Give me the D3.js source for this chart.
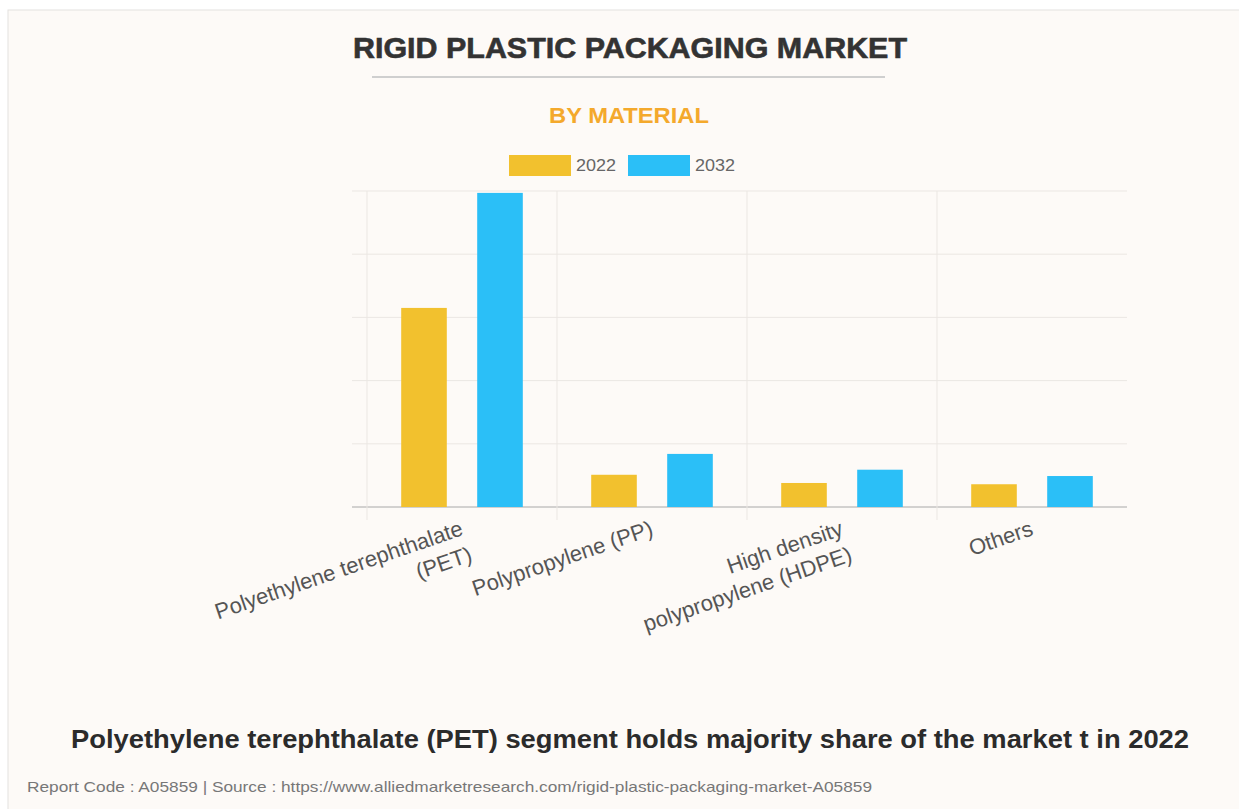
<!DOCTYPE html>
<html>
<head>
<meta charset="utf-8">
<script src="https://cdn.jsdelivr.net/npm/d3@7"></script>
<style>
  body { margin: 0; background: #fff; }
  svg text { font-family: "Liberation Sans", Arial, sans-serif; }
</style>
</head>
<body>
<div id="chart"></div>
<script>
var categories = [
  ['Polyethylene terephthalate', '(PET)'],
  ['Polypropylene (PP)'],
  ['High density', 'polypropylene (HDPE)'],
  ['Others']
]
var seriesNames = ['2022', '2032']
var values2022 = [3.15, 0.51, 0.38, 0.36]
var values2032 = [4.97, 0.84, 0.59, 0.49]
var colors = ['#f2c12e', '#2bbff7']

var W = 1239, H = 809
var plot = {left: 367, right: 1127, top: 191, bottom: 507}

var svg = d3.select('#chart').append('svg')
  .attr('width', W)
  .attr('height', H)

// card
svg.append('rect')
  .attr('x', 8).attr('y', 10)
  .attr('width', W).attr('height', H)
  .style('fill', '#fdfaf7')
  .style('stroke', '#e4e2e0')

svg.append('text')
  .attr('x', 630).attr('y', 58)
  .attr('text-anchor', 'middle')
  .attr('textLength', 554)
  .attr('lengthAdjust', 'spacingAndGlyphs')
  .style('font-size', '29px').style('font-weight', 'bold')
  .style('fill', '#333')
  .style('stroke', '#333').style('stroke-width', 0.6)
  .text('RIGID PLASTIC PACKAGING MARKET')

svg.append('line')
  .attr('x1', 372).attr('x2', 885)
  .attr('y1', 77).attr('y2', 77)
  .style('stroke', '#cfcfcf').style('stroke-width', 2)

svg.append('text')
  .attr('x', 629).attr('y', 123)
  .attr('text-anchor', 'middle')
  .attr('textLength', 160)
  .attr('lengthAdjust', 'spacingAndGlyphs')
  .style('font-size', '22px').style('font-weight', 'bold')
  .style('fill', '#f4a92c')
  .text('BY MATERIAL')

// legend
var legendX = [509, 628]
seriesNames.forEach(function (s, i) {
  svg.append('rect')
    .attr('x', legendX[i]).attr('y', 155)
    .attr('width', 62).attr('height', 21)
    .style('fill', colors[i])
  svg.append('text')
    .attr('x', legendX[i] + 67).attr('y', 171)
    .attr('textLength', 40)
    .attr('lengthAdjust', 'spacingAndGlyphs')
    .style('font-size', '16px')
    .style('fill', '#666')
    .text(s)
})

var catKeys = categories.map(function (c) { return c.join(' ') })

var x0 = d3.scaleBand()
  .domain(catKeys)
  .range([plot.left, plot.right])

var x1 = d3.scaleBand()
  .domain(seriesNames)
  .range([x0.bandwidth() * 0.1, x0.bandwidth() * 0.9])

var y = d3.scaleLinear()
  .domain([0, 5])
  .range([plot.bottom, plot.top])

// grid
svg.append('g').selectAll('line')
  .data(y.ticks(5))
  .enter().append('line')
  .attr('x1', plot.left - 15).attr('x2', plot.right)
  .attr('y1', function (d) { return y(d) }).attr('y2', function (d) { return y(d) })
  .style('stroke', function (d) { return d === 0 ? '#a8a8a8' : '#ebe7e3' })
  .style('stroke-width', 1)

svg.append('g').selectAll('line')
  .data(catKeys)
  .enter().append('line')
  .attr('x1', function (d) { return x0(d) }).attr('x2', function (d) { return x0(d) })
  .attr('y1', plot.top).attr('y2', plot.bottom + 13)
  .style('stroke', '#ebe7e3')

// bars
var series = [values2022, values2032]
seriesNames.forEach(function (s, i) {
  svg.append('g').selectAll('rect')
    .data(series[i])
    .enter().append('rect')
    .attr('x', function (d, j) { return x0(catKeys[j]) + x1(s) + x1.bandwidth() * 0.2 })
    .attr('width', x1.bandwidth() * 0.6)
    .attr('y', function (d) { return y(d) })
    .attr('height', function (d) { return plot.bottom - y(d) })
    .style('fill', colors[i])
})

// x labels
var labels = svg.append('g').selectAll('text')
  .data(categories)
  .enter().append('text')
  .attr('transform', function (d, j) {
    return 'translate(' + (x0(catKeys[j]) + x0.bandwidth() / 2 - 3) + ',' + (plot.bottom + 12) + ') rotate(-19)'
  })
  .attr('text-anchor', 'end')
  .style('font-size', '22px')
  .style('fill', '#555')

labels.selectAll('tspan')
  .data(function (d) { return d })
  .enter().append('tspan')
  .attr('x', 0)
  .attr('dy', function (d, k) { return k === 0 ? '0.75em' : '1.25em' })
  .text(function (d) { return d })

svg.append('text')
  .attr('x', 630).attr('y', 748)
  .attr('text-anchor', 'middle')
  .attr('textLength', 1118)
  .attr('lengthAdjust', 'spacingAndGlyphs')
  .style('font-size', '25px').style('font-weight', 'bold')
  .style('fill', '#2b2b2b')
  .text('Polyethylene terephthalate (PET) segment holds majority share of the market t in 2022')

svg.append('text')
  .attr('x', 27).attr('y', 792)
  .attr('textLength', 845)
  .attr('lengthAdjust', 'spacingAndGlyphs')
  .style('font-size', '15px')
  .style('fill', '#777')
  .text('Report Code : A05859  |  Source : https://www.alliedmarketresearch.com/rigid-plastic-packaging-market-A05859')
</script>
</body>
</html>
